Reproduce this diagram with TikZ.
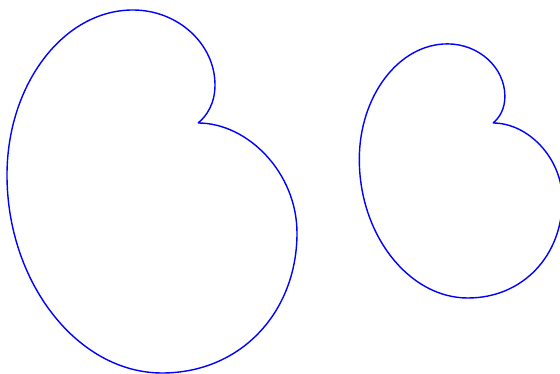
\documentclass[tikz,border=0pt]{standalone}
\usepackage{tikz}

\begin{document}
\begin{tikzpicture}[
        x=1pt, y=1pt,
        curve/.style={blue, line width=1.4pt, line join=round},
        kidney/.pic={
            % cusp at the origin, traced counter-clockwise
            \draw[curve] (0,0)
                .. controls (9,7) and (17,20) .. (17,38)
                .. controls (17,79) and (-20,113) .. (-65,113)
                .. controls (-135,113) and (-191,38) .. (-191,-52)
                .. controls (-191,-160) and (-120,-250) .. (-36,-250)
                .. controls (43,-250) and (99,-189) .. (99,-110)
                .. controls (99,-50) and (50,0) .. (0,0);
        },
    ]
    \useasboundingbox (0,0) rectangle (560,374);
    \clip (0,0) rectangle (560,374);

    % large and small copies, cusps on the same height
    \pic at (198,251) {kidney};
    \pic[scale=0.7] at (493,251) {kidney};
\end{tikzpicture}
\end{document}
